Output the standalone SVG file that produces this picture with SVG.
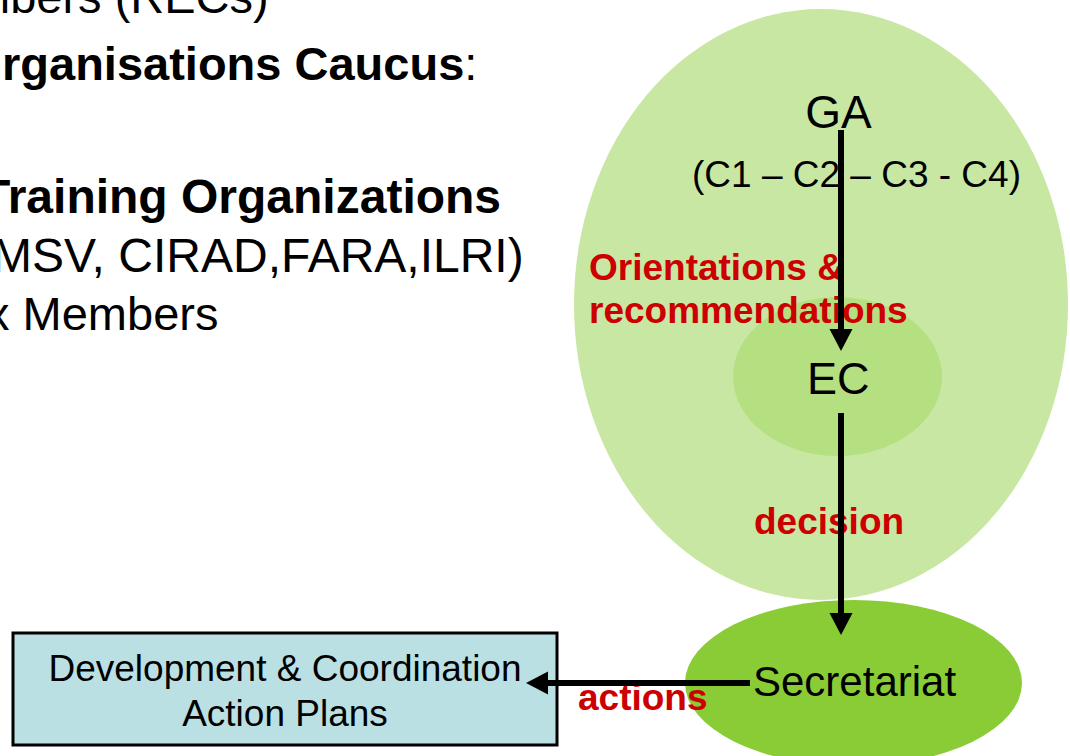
<svg xmlns="http://www.w3.org/2000/svg" width="1070" height="756" viewBox="0 0 1070 756">
  <defs>
    <style>
      .t { font-family: "Liberation Sans", Arial, sans-serif; fill: #000; }
      .b { font-weight: bold; }
      .lbl { font-family: "Liberation Sans", Arial, sans-serif; font-weight: bold; font-size: 37px; fill: #cc0000; }
      .conn { stroke: #000; stroke-width: 6; fill: none; }
    </style>
    <marker id="arrow" markerUnits="userSpaceOnUse" markerWidth="24" markerHeight="24" refX="11" refY="11.5" orient="auto">
      <path d="M0,0 L22,11.5 L0,23 Z" fill="#000"/>
    </marker>
  </defs>
  <rect width="1070" height="756" fill="#ffffff"/>

  <g id="left-text">
    <text class="t" x="-29" y="13" font-size="47">mbers (RECs)</text>
    <text class="t" x="2" y="80" font-size="47"><tspan class="b">rganisations Caucus</tspan>:</text>
    <text class="t b" x="-19" y="213" font-size="48">Training Organizations</text>
    <text class="t" x="-8" y="272" font-size="48">MSV, CIRAD,FARA,ILRI)</text>
    <text class="t" x="-14" y="330" font-size="47">x Members</text>
  </g>

  <g id="node-ga">
    <ellipse cx="821" cy="304.5" rx="247" ry="295.5" fill="#c8e7a3"/>
    <text class="t" x="838.5" y="128" font-size="46" text-anchor="middle">GA</text>
    <text class="t" x="692" y="187" font-size="37">(C1 – C2 – C3 - C4)</text>
  </g>

  <g id="node-ec">
    <ellipse cx="837.5" cy="376.5" rx="104.5" ry="79.5" fill="#b5e082"/>
    <text class="t" x="807" y="394" font-size="45">EC</text>
  </g>

  <g id="node-secretariat">
    <ellipse cx="853.5" cy="683" rx="168.5" ry="83" fill="#89cc36"/>
    <text class="t" x="753" y="696" font-size="42">Secretariat</text>
  </g>

  <g id="node-plans">
    <rect x="13" y="633" width="544" height="112" fill="#bae0e4" stroke="#000" stroke-width="3"/>
    <text class="t" x="285" y="681" font-size="37" text-anchor="middle">Development &amp; Coordination</text>
    <text class="t" x="285" y="726" font-size="37" text-anchor="middle">Action Plans</text>
  </g>

  <g id="labels">
    <text class="lbl" x="589" y="280">Orientations &amp;</text>
    <text class="lbl" x="589" y="323">recommendations</text>
    <text class="lbl" x="754" y="534">decision</text>
    <text class="lbl" x="578" y="710">actions</text>
  </g>

  <g id="connectors">
    <line class="conn" x1="841" y1="130" x2="841" y2="340" marker-end="url(#arrow)"/>
    <line class="conn" x1="841" y1="413" x2="841" y2="624" marker-end="url(#arrow)"/>
    <line class="conn" x1="750" y1="683" x2="537" y2="683" marker-end="url(#arrow)"/>
  </g>
</svg>
